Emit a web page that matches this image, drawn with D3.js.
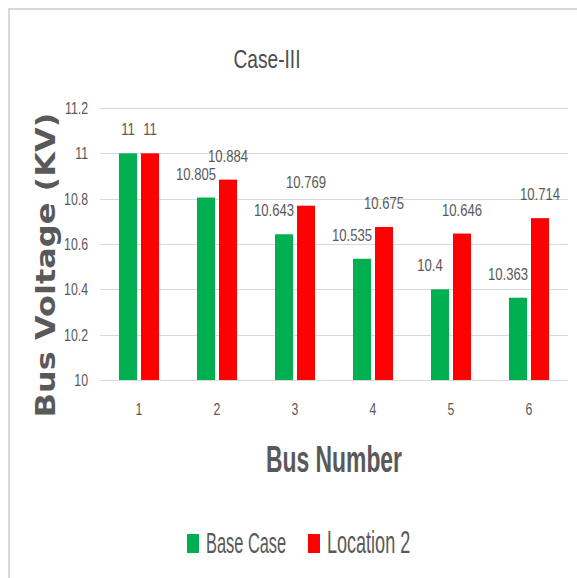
<!DOCTYPE html>
<html lang="en">
<head>
    <meta charset="UTF-8">
    <title>Case-III</title>
    <script src="https://cdn.jsdelivr.net/npm/d3@7"></script>
    <style>
        body { margin: 0; background: #fff; }
        text { fill: #595959; font-family: "Liberation Sans", Arial, sans-serif; }
    </style>
</head>
<body>
    <script>
        // chart data
        const buses = ["1", "2", "3", "4", "5", "6"];
        const baseCase = [11, 10.805, 10.643, 10.535, 10.4, 10.363];
        const location2 = [11, 10.884, 10.769, 10.675, 10.646, 10.714];
        const yTicks = [10, 10.2, 10.4, 10.6, 10.8, 11, 11.2];
        const seriesNames = ["Base Case", "Location 2"];
        const seriesColors = ["#00B050", "#FF0000"];

        const width = 577, height = 578;
        // squeeze the glyphs sideways, Calibri-ish look
        const narrow = (tx, ty, sy) => `translate(${tx},${ty}) scale(0.82,${sy})`;

        const svg = d3.select("body").append("svg")
            .attr("width", width)
            .attr("height", height);

        // outer chart border
        svg.append("rect")
            .attr("x", 9).attr("y", 9)
            .attr("width", width + 10).attr("height", height + 10)
            .attr("fill", "none")
            .attr("stroke", "#d9d9d9")
            .attr("stroke-width", 2);

        const x = d3.scaleBand().domain(buses).range([100, 568]);
        const x1 = d3.scaleBand().domain(seriesNames).range([19, 59]).paddingInner(4 / 22);
        const y = d3.scaleLinear().domain([10, 11.2]).range([380, 108]);

        // gridlines
        svg.append("g")
            .selectAll("line")
            .data(yTicks)
            .join("line")
            .attr("x1", 100).attr("x2", 568)
            .attr("y1", d => Math.round(y(d)) + 0.5)
            .attr("y2", d => Math.round(y(d)) + 0.5)
            .attr("stroke", "#d9d9d9")
            .attr("stroke-width", 1.2);

        // y tick labels
        svg.append("g")
            .selectAll("text")
            .data(yTicks)
            .join("text")
            .attr("transform", d => narrow(88, y(d) + 6, 1.1))
            .attr("text-anchor", "end")
            .attr("font-size", 15)
            .text(d => d3.format("~g")(d));

        // x tick labels
        svg.append("g")
            .selectAll("text")
            .data(buses)
            .join("text")
            .attr("transform", d => narrow(x(d) + x.bandwidth() / 2, 415, 1.15))
            .attr("text-anchor", "middle")
            .attr("font-size", 15)
            .text(d => d);

        const series = [baseCase, location2];

        series.forEach((vals, si) => {
            const name = seriesNames[si];
            const g = svg.append("g");
            g.selectAll("rect")
                .data(vals)
                .join("rect")
                .attr("x", (d, i) => x(buses[i]) + x1(name))
                .attr("width", x1.bandwidth())
                .attr("y", d => y(d))
                .attr("height", d => y(10) - y(d))
                .attr("fill", seriesColors[si]);

            g.selectAll("text")
                .data(vals)
                .join("text")
                .attr("transform", (d, i) => {
                    const cx = x(buses[i]) + x1(name) + x1.bandwidth() / 2;
                    const shift = (si === 0 && String(d).length > 2) ? -10 : 0;
                    return narrow(cx + shift, y(d) - 18, 1.05);
                })
                .attr("text-anchor", "middle")
                .attr("font-size", 16)
                .text(d => d);
        });

        // title
        svg.append("text")
            .attr("x", 267).attr("y", 68)
            .attr("text-anchor", "middle")
            .attr("font-size", 25)
            .attr("textLength", 67)
            .attr("lengthAdjust", "spacingAndGlyphs")
            .style("fill", "#4d4d4d")
            .text("Case-III");

        // y axis title
        svg.append("text")
            .attr("transform", "translate(55,265) rotate(-90)")
            .attr("text-anchor", "middle")
            .attr("font-weight", "bold")
            .attr("font-size", 27)
            .attr("textLength", 305)
            .attr("lengthAdjust", "spacingAndGlyphs")
            .style("font-family", "DejaVu Sans, sans-serif")
            .text("Bus Voltage (KV)");

        // x axis title
        svg.append("text")
            .attr("x", 334).attr("y", 472)
            .attr("text-anchor", "middle")
            .attr("font-weight", "bold")
            .attr("font-size", 37)
            .attr("textLength", 136)
            .attr("lengthAdjust", "spacingAndGlyphs")
            .text("Bus Number");

        // legend
        const legendX = [187, 308];
        const legend = svg.append("g");
        seriesNames.forEach((name, i) => {
            legend.append("rect")
                .attr("x", legendX[i]).attr("y", 534)
                .attr("width", 12).attr("height", 19)
                .attr("fill", seriesColors[i]);
            legend.append("text")
                .attr("transform", narrow(legendX[i] + 19, 553, 1.45))
                .attr("font-size", i === 0 ? 20 : 22)
                .text(name);
        });
    </script>
</body>
</html>
